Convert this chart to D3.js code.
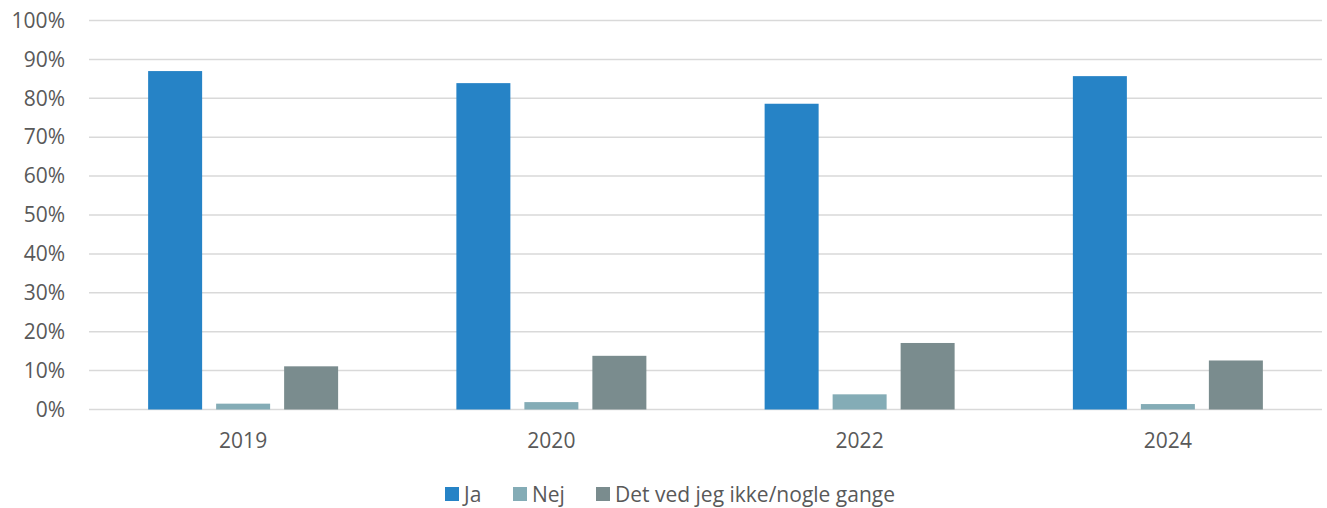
<!DOCTYPE html>
<html><head><meta charset="utf-8">
<script src="https://cdn.jsdelivr.net/npm/d3@7"></script>
<style>body{margin:0;background:#fff;} svg{display:block;}</style>
</head><body>
<svg id="chart" width="1327" height="508"></svg>
<script>
const categories = ["2019", "2020", "2022", "2024"];
const seriesNames = ["Ja", "Nej", "Det ved jeg ikke/nogle gange"];
const ja = [0.870, 0.839, 0.786, 0.857];
const nej = [0.015, 0.019, 0.039, 0.014];
const ved = [0.111, 0.138, 0.171, 0.126];
const yTicks = [0, 0.1, 0.2, 0.3, 0.4, 0.5, 0.6, 0.7, 0.8, 0.9, 1.0];
const colors = ["#2683C6", "#84ACB6", "#7A8C8E"];

const series = [ja, nej, ved];
const svg = d3.select("#chart");
const font = "'Open Sans', 'Liberation Sans', Arial, sans-serif";
const fs = 21;
const m = {left: 89, right: 1322, top: 20.5, bottom: 409.5};

const x0 = d3.scaleBand().domain(categories).range([m.left, m.right]).paddingInner(0).paddingOuter(0);
const groupW = 190;
const x1 = d3.scaleBand().domain(seriesNames).range([0, groupW]).paddingInner(14/68).paddingOuter(0);
const y = d3.scaleLinear().domain([0, 1]).range([m.bottom, m.top]);

// gridlines
svg.append("g").selectAll("line").data(yTicks).join("line")
  .attr("x1", m.left).attr("x2", m.right)
  .attr("y1", d => y(d)).attr("y2", d => y(d))
  .attr("stroke", "#d9d9d9").attr("stroke-width", 1.5);

// y labels
const yAxis = d3.axisLeft(y).tickValues(yTicks).tickFormat(d3.format(".0%")).tickSize(0).tickPadding(0);
const ya = svg.append("g").attr("transform", `translate(65,0)`).call(yAxis);
ya.select(".domain").remove();
ya.selectAll("text").attr("font-family", font).attr("font-size", fs).attr("fill", "#595959");

// bars
const rows = categories.map((c, i) => seriesNames.map((s, j) => ({cat: c, ser: s, v: series[j][i], j})));
svg.append("g").selectAll("g").data(rows).join("g")
  .attr("transform", d => `translate(${x0(d[0].cat) + (x0.bandwidth() - groupW)/2},0)`)
  .selectAll("rect").data(d => d).join("rect")
  .attr("x", d => x1(d.ser)).attr("width", x1.bandwidth())
  .attr("y", d => y(d.v)).attr("height", d => y(0) - y(d.v))
  .attr("fill", d => colors[d.j]);

// x labels
const xAxis = d3.axisBottom(x0).tickSize(0).tickPadding(0);
const xa = svg.append("g").attr("transform", `translate(0,448)`).call(xAxis);
xa.select(".domain").remove();
xa.selectAll("text").attr("dy", 0).attr("y", 0).attr("font-family", font).attr("font-size", fs).attr("fill", "#595959");

// legend
const legX = [445, 513, 596];
const leg = svg.append("g").selectAll("g").data(seriesNames).join("g")
  .attr("transform", (d, i) => `translate(${legX[i]},487)`);
leg.append("rect").attr("width", 14).attr("height", 14).attr("fill", (d, i) => colors[i]);
leg.append("text").attr("x", 19).attr("y", 14.5).text(d => d)
  .attr("font-family", font).attr("font-size", fs).attr("fill", "#595959");
</script>
</body></html>
